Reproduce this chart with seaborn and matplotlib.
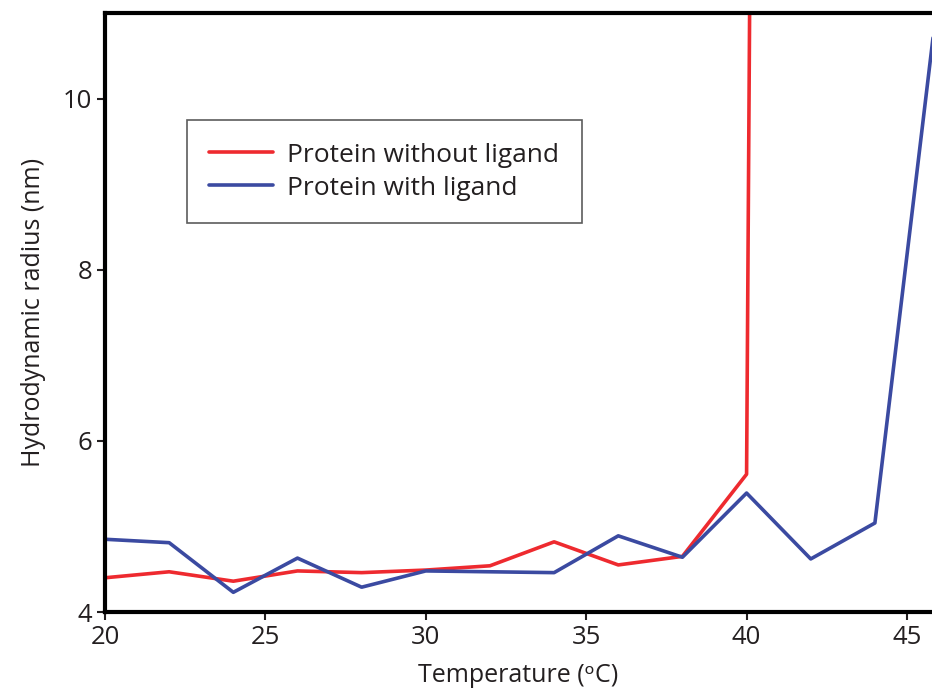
import matplotlib
matplotlib.use("Agg")
import matplotlib.pyplot as plt
import seaborn as sns
import pandas as pd

temps_red = [20, 22, 24, 26, 28, 30, 32, 34, 36, 38, 40, 42]
radius_red = [4.40, 4.47, 4.36, 4.48, 4.46, 4.49, 4.54, 4.82, 4.55, 4.65, 5.61, 120.0]
temps_blue = [20, 22, 24, 26, 28, 30, 32, 34, 36, 38, 40, 42, 44, 46]
radius_blue = [4.85, 4.81, 4.23, 4.63, 4.29, 4.48, 4.47, 4.46, 4.89, 4.64, 5.39, 4.62, 5.04, 11.3]
series_names = ["Protein without ligand", "Protein with ligand"]
colors = ["#EE2A2F", "#3B4AA1"]
xticks = [20, 25, 30, 35, 40, 45]
yticks = [4, 6, 8, 10]

df = pd.concat([
    pd.DataFrame({"temp": temps_red, "radius": radius_red, "series": series_names[0]}),
    pd.DataFrame({"temp": temps_blue, "radius": radius_blue, "series": series_names[1]}),
])

sns.set_style("white")
plt.rcParams["font.family"] = ["Open Sans", "DejaVu Sans"]

fig = plt.figure(figsize=(9.32, 6.9), dpi=100)
ax = fig.add_axes([105/932, 78/690, 1 - 105/932, (612-13)/690])

sns.lineplot(data=df, x="temp", y="radius", hue="series", palette=colors,
             linewidth=2.6, ax=ax, sort=False, estimator=None)

ax.set_xlim(20, 45.78)
ax.set_ylim(4, 11)
ax.set_xticks(xticks)
ax.set_yticks(yticks)
ax.tick_params(axis="both", direction="out", length=6, width=1.5, labelsize=18.5,
               colors="#231f20", left=True, bottom=True, pad=3)
ax.set_xlabel("Temperature (ᵒC)", fontsize=18, color="#231f20", labelpad=10)
ax.set_ylabel("Hydrodynamic radius (nm)", fontsize=18, color="#231f20", labelpad=12)

for side in ["left", "top", "bottom"]:
    ax.spines[side].set_visible(True)
    ax.spines[side].set_linewidth(3)
    ax.spines[side].set_color("black")
ax.spines["right"].set_visible(False)

leg = ax.legend(loc="upper left", bbox_to_anchor=(0.099, 0.821), borderaxespad=0,
                fontsize=19, frameon=True, fancybox=False, handlelength=2.4,
                handletextpad=0.55, labelspacing=0.3, borderpad=0.85)
leg.get_frame().set_edgecolor("#333333")
leg.get_frame().set_linewidth(1.2)
for t in leg.get_texts():
    t.set_color("#231f20")

fig.savefig("out.png", dpi=100)
